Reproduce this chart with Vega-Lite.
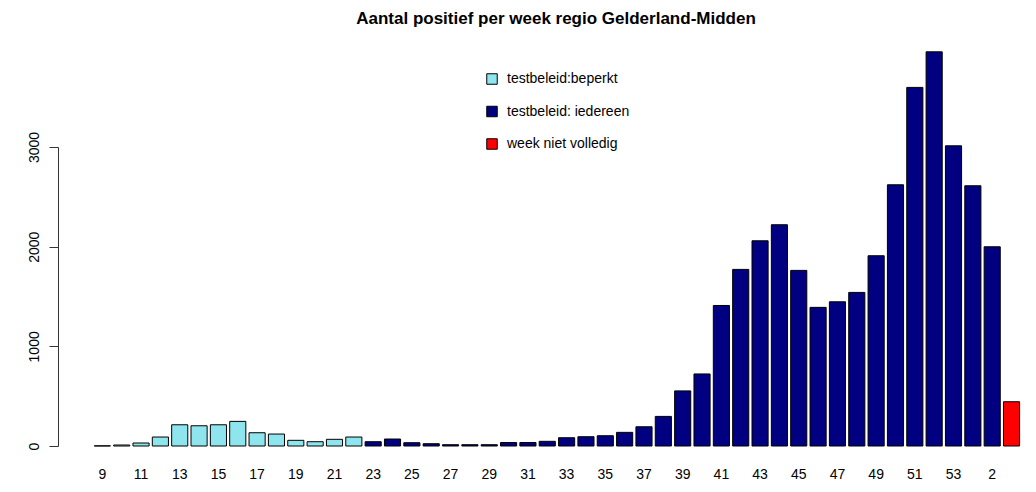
{
  "$schema": "https://vega.github.io/schema/vega-lite/v6.json",
  "width": 964,
  "height": 299,
  "autosize": {"type": "none"},
  "padding": {"left": 58, "top": 147, "right": 14, "bottom": 46},
  "background": "white",
  "title": {
    "text": "Aantal positief per week regio Gelderland-Midden",
    "font": "Liberation Sans",
    "fontSize": 17,
    "fontWeight": "bold",
    "color": "black",
    "anchor": "middle",
    "frame": "group",
    "offset": 23,
    "dx": 16
  },
  "data": {
    "values": [
      {"week": 9, "aantal": 2, "testbeleid": "testbeleid:beperkt"},
      {"week": 10, "aantal": 10, "testbeleid": "testbeleid:beperkt"},
      {"week": 11, "aantal": 30, "testbeleid": "testbeleid:beperkt"},
      {"week": 12, "aantal": 90, "testbeleid": "testbeleid:beperkt"},
      {"week": 13, "aantal": 213, "testbeleid": "testbeleid:beperkt"},
      {"week": 14, "aantal": 203, "testbeleid": "testbeleid:beperkt"},
      {"week": 15, "aantal": 213, "testbeleid": "testbeleid:beperkt"},
      {"week": 16, "aantal": 247, "testbeleid": "testbeleid:beperkt"},
      {"week": 17, "aantal": 133, "testbeleid": "testbeleid:beperkt"},
      {"week": 18, "aantal": 120, "testbeleid": "testbeleid:beperkt"},
      {"week": 19, "aantal": 57, "testbeleid": "testbeleid:beperkt"},
      {"week": 20, "aantal": 43, "testbeleid": "testbeleid:beperkt"},
      {"week": 21, "aantal": 67, "testbeleid": "testbeleid:beperkt"},
      {"week": 22, "aantal": 90, "testbeleid": "testbeleid:beperkt"},
      {"week": 23, "aantal": 43, "testbeleid": "testbeleid: iedereen"},
      {"week": 24, "aantal": 70, "testbeleid": "testbeleid: iedereen"},
      {"week": 25, "aantal": 33, "testbeleid": "testbeleid: iedereen"},
      {"week": 26, "aantal": 23, "testbeleid": "testbeleid: iedereen"},
      {"week": 27, "aantal": 13, "testbeleid": "testbeleid: iedereen"},
      {"week": 28, "aantal": 13, "testbeleid": "testbeleid: iedereen"},
      {"week": 29, "aantal": 13, "testbeleid": "testbeleid: iedereen"},
      {"week": 30, "aantal": 35, "testbeleid": "testbeleid: iedereen"},
      {"week": 31, "aantal": 35, "testbeleid": "testbeleid: iedereen"},
      {"week": 32, "aantal": 47, "testbeleid": "testbeleid: iedereen"},
      {"week": 33, "aantal": 83, "testbeleid": "testbeleid: iedereen"},
      {"week": 34, "aantal": 93, "testbeleid": "testbeleid: iedereen"},
      {"week": 35, "aantal": 103, "testbeleid": "testbeleid: iedereen"},
      {"week": 36, "aantal": 137, "testbeleid": "testbeleid: iedereen"},
      {"week": 37, "aantal": 193, "testbeleid": "testbeleid: iedereen"},
      {"week": 38, "aantal": 297, "testbeleid": "testbeleid: iedereen"},
      {"week": 39, "aantal": 553, "testbeleid": "testbeleid: iedereen"},
      {"week": 40, "aantal": 723, "testbeleid": "testbeleid: iedereen"},
      {"week": 41, "aantal": 1410, "testbeleid": "testbeleid: iedereen"},
      {"week": 42, "aantal": 1772, "testbeleid": "testbeleid: iedereen"},
      {"week": 43, "aantal": 2059, "testbeleid": "testbeleid: iedereen"},
      {"week": 44, "aantal": 2220, "testbeleid": "testbeleid: iedereen"},
      {"week": 45, "aantal": 1762, "testbeleid": "testbeleid: iedereen"},
      {"week": 46, "aantal": 1391, "testbeleid": "testbeleid: iedereen"},
      {"week": 47, "aantal": 1447, "testbeleid": "testbeleid: iedereen"},
      {"week": 48, "aantal": 1541, "testbeleid": "testbeleid: iedereen"},
      {"week": 49, "aantal": 1909, "testbeleid": "testbeleid: iedereen"},
      {"week": 50, "aantal": 2621, "testbeleid": "testbeleid: iedereen"},
      {"week": 51, "aantal": 3598, "testbeleid": "testbeleid: iedereen"},
      {"week": 52, "aantal": 3955, "testbeleid": "testbeleid: iedereen"},
      {"week": 53, "aantal": 3012, "testbeleid": "testbeleid: iedereen"},
      {"week": 1, "aantal": 2611, "testbeleid": "testbeleid: iedereen"},
      {"week": 2, "aantal": 1999, "testbeleid": "testbeleid: iedereen"},
      {"week": 3, "aantal": 444, "testbeleid": "week niet volledig"}
    ]
  },
  "mark": {"type": "bar", "stroke": "black", "strokeWidth": 1},
  "encoding": {
    "x": {
      "field": "week",
      "type": "ordinal",
      "sort": null,
      "scale": {"paddingInner": 0.1667, "paddingOuter": 1, "align": 0.938, "round": false},
      "axis": {
        "title": null,
        "domain": false,
        "ticks": false,
        "labelAngle": 0,
        "values": [9, 11, 13, 15, 17, 19, 21, 23, 25, 27, 29, 31, 33, 35, 37, 39, 41, 43, 45, 47, 49, 51, 53, 2],
        "labelPadding": 21,
        "labelFontSize": 14,
        "labelFont": "Liberation Sans",
        "labelColor": "black"
      }
    },
    "y": {
      "field": "aantal",
      "type": "quantitative",
      "scale": {"domain": [0, 3000], "nice": false},
      "axis": {
        "title": null,
        "grid": false,
        "format": "d",
        "values": [0, 1000, 2000, 3000],
        "domainColor": "#333333",
        "tickColor": "#333333",
        "tickSize": 9,
        "labelAngle": -90,
        "labelAlign": "center",
        "labelBaseline": "bottom",
        "labelPadding": 8,
        "labelFontSize": 14,
        "labelFont": "Liberation Sans",
        "labelColor": "black",
        "labelFlush": false
      }
    },
    "color": {
      "field": "testbeleid",
      "type": "nominal",
      "scale": {
        "domain": ["testbeleid:beperkt", "testbeleid: iedereen", "week niet volledig"],
        "range": ["#8EE5EE", "#000080", "#FF0000"]
      },
      "legend": {
        "orient": "none",
        "legendX": 427,
        "legendY": -75,
        "title": null,
        "padding": 0,
        "symbolType": "square",
        "symbolSize": 110,
        "symbolStrokeColor": "black",
        "symbolStrokeWidth": 1,
        "symbolOpacity": 1,
        "labelFontSize": 14,
        "labelFont": "Liberation Sans",
        "labelColor": "black",
        "labelOffset": 8,
        "rowPadding": 16.5
      }
    }
  },
  "config": {"view": {"stroke": null}}
}
